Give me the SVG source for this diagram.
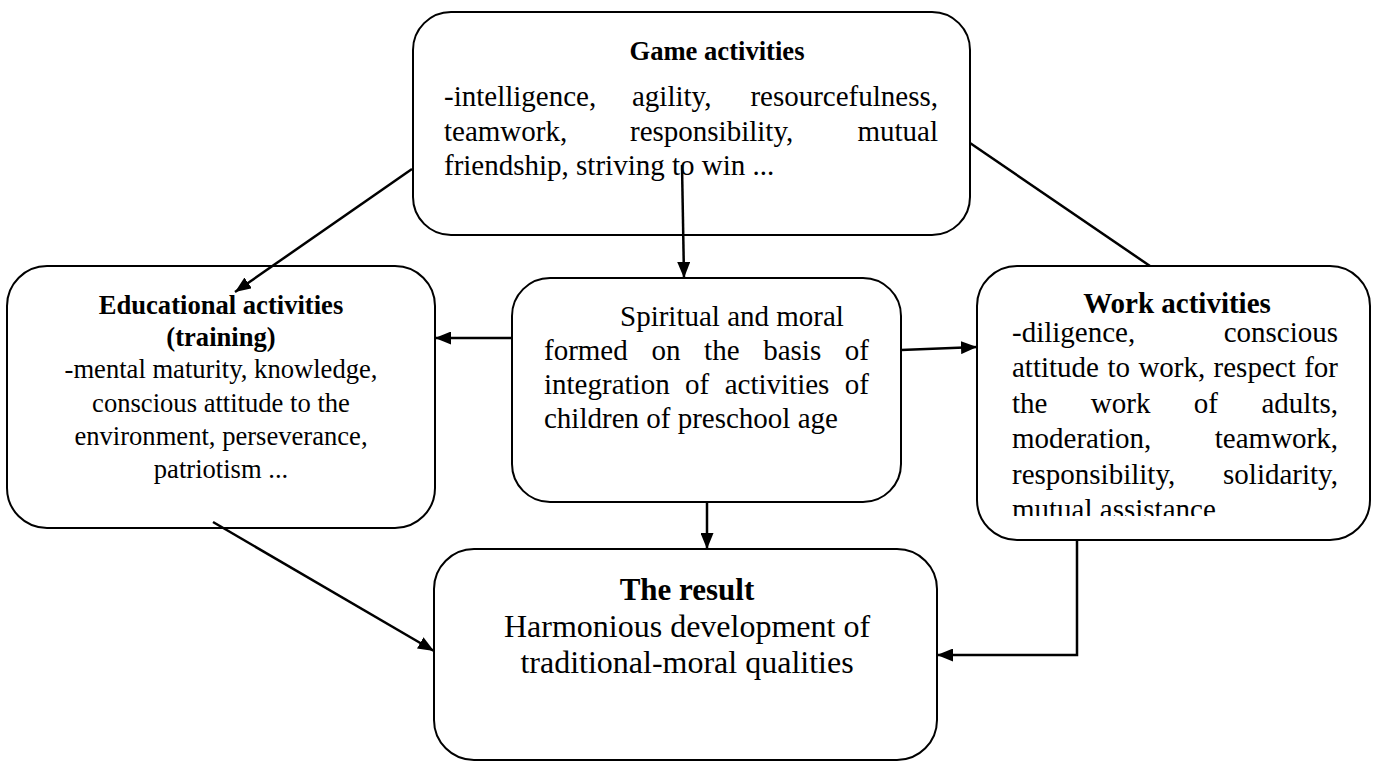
<svg xmlns="http://www.w3.org/2000/svg" width="1374" height="765" viewBox="0 0 1374 765">
  <defs>
    <marker id="arrow" markerUnits="userSpaceOnUse" markerWidth="16" markerHeight="13" refX="16" refY="6.5" orient="auto">
      <path d="M0,0 L16,6.5 L0,13 z" fill="#000"/>
    </marker>
    <clipPath id="work-clip">
      <rect x="980" y="268" width="388" height="248"/>
    </clipPath>
  </defs>
  <style>
    .box { fill: #fff; stroke: #000; stroke-width: 2; }
    .link { fill: none; stroke: #000; stroke-width: 2.5; }
    .txt { font-family: "Liberation Serif", "Times New Roman", serif; fill: #000; }
    .b { font-weight: bold; }
    .end { text-anchor: end; }
    .mid { text-anchor: middle; }
  </style>

  <rect width="1374" height="765" fill="#fff"/>

  <!-- Game activities -->
  <g id="game">
    <rect class="box" x="413" y="12" width="557" height="223" rx="38" ry="38"/>
    <text class="txt b mid" x="717" y="60" font-size="26.6">Game activities</text>
    <g class="txt" font-size="29">
      <text x="444" y="106">-intelligence,</text>
      <text x="632" y="106">agility,</text>
      <text class="end" x="938" y="106">resourcefulness,</text>
      <text x="444" y="141">teamwork,</text>
      <text x="630" y="141">responsibility,</text>
      <text class="end" x="938" y="141">mutual</text>
      <text x="444" y="175">friendship, striving to win ...</text>
    </g>
  </g>

  <!-- Educational activities -->
  <g id="educational">
    <rect class="box" x="7" y="266" width="428" height="262" rx="40" ry="40"/>
    <g class="txt mid" font-size="26.6">
      <text class="b" x="221" y="314">Educational activities</text>
      <text class="b" x="221" y="346">(training)</text>
      <text x="221" y="378">-mental maturity, knowledge,</text>
      <text x="221" y="412">conscious attitude to the</text>
      <text x="221" y="445">environment, perseverance,</text>
      <text x="221" y="478">patriotism ...</text>
    </g>
  </g>

  <!-- Central node -->
  <g id="spiritual">
    <rect class="box" x="512" y="278" width="389" height="224" rx="38" ry="38"/>
    <g class="txt" font-size="29">
      <text x="620" y="326">Spiritual and moral</text>
      <text x="544" y="360">formed</text>
      <text x="651.4" y="360">on</text>
      <text x="704.1" y="360">the</text>
      <text x="763.2" y="360">basis</text>
      <text class="end" x="869" y="360">of</text>
      <text x="544" y="394">integration</text>
      <text x="685.1" y="394">of</text>
      <text x="724.7" y="394">activities</text>
      <text class="end" x="869" y="394">of</text>
      <text x="544" y="428">children of preschool age</text>
    </g>
  </g>

  <!-- Work activities -->
  <g id="work">
    <rect class="box" x="977" y="266" width="393" height="274" rx="40" ry="40"/>
    <text class="txt b mid" x="1177" y="313" font-size="29">Work activities</text>
    <g class="txt" font-size="29" clip-path="url(#work-clip)">
      <text x="1012" y="342">-diligence,</text>
      <text class="end" x="1338" y="342">conscious</text>
      <text x="1012" y="377">attitude</text>
      <text x="1107.4" y="377">to</text>
      <text x="1138.4" y="377">work,</text>
      <text x="1213.6" y="377">respect</text>
      <text class="end" x="1338" y="377">for</text>
      <text x="1012" y="413">the</text>
      <text x="1090.8" y="413">work</text>
      <text x="1193.8" y="413">of</text>
      <text class="end" x="1338" y="413">adults,</text>
      <text x="1012" y="448">moderation,</text>
      <text class="end" x="1338" y="448">teamwork,</text>
      <text x="1012" y="484">responsibility,</text>
      <text class="end" x="1338" y="484">solidarity,</text>
      <text x="1012" y="519">mutual assistance</text>
    </g>
  </g>

  <!-- The result -->
  <g id="result">
    <rect class="box" x="434" y="549" width="503" height="211" rx="40" ry="40"/>
    <g class="txt mid">
      <text class="b" x="687" y="600" font-size="31">The result</text>
      <text x="687" y="637" font-size="32">Harmonious development of</text>
      <text x="687" y="673" font-size="32">traditional-moral qualities</text>
    </g>
  </g>

  <!-- Connectors -->
  <g id="connectors">
    <line class="link" x1="412" y1="169" x2="235" y2="292" marker-end="url(#arrow)"/>
    <line class="link" x1="682" y1="165" x2="684" y2="278" marker-end="url(#arrow)"/>
    <line class="link" x1="970" y1="143" x2="1150" y2="266"/>
    <line class="link" x1="512" y1="338" x2="435" y2="338" marker-end="url(#arrow)"/>
    <line class="link" x1="901" y1="350" x2="977" y2="347" marker-end="url(#arrow)"/>
    <line class="link" x1="707" y1="502" x2="707" y2="549" marker-end="url(#arrow)"/>
    <line class="link" x1="213" y1="522" x2="434" y2="651" marker-end="url(#arrow)"/>
    <polyline class="link" points="1077,540 1077,655 937,655" marker-end="url(#arrow)"/>
  </g>
</svg>
